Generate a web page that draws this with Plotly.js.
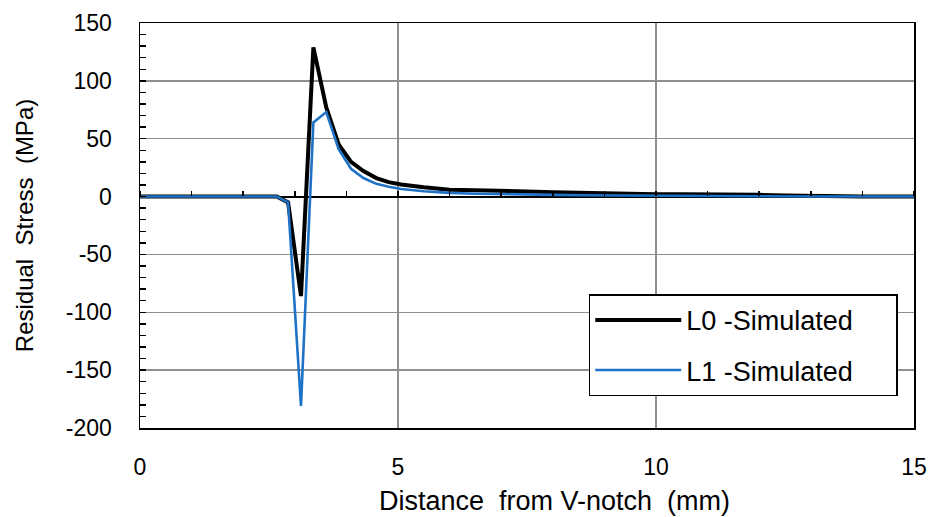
<!DOCTYPE html>
<html>
<head>
<meta charset="utf-8">
<script src="https://cdn.plot.ly/plotly-3.0.1.min.js"></script>
<style>html,body{margin:0;padding:0;background:#fff;}#chart{width:934px;height:517px;}</style>
</head>
<body>
<div id="chart"></div>
<script>
// Distance from V-notch (mm) and residual stress (MPa)
const distL0 = [0, 1.0, 2.0, 2.65, 2.87, 3.12, 3.36, 3.61, 3.85, 4.09, 4.33, 4.58, 4.82, 5.06, 5.5, 6.0, 6.5, 7.0, 7.5, 8.0, 8.5, 9.0, 9.5, 10.0, 10.5, 11.0, 11.5, 12.0, 12.5, 13.0, 13.5, 14.0, 15.0];
const stressL0 = [0, 0, 0, 0, -5, -86, 129, 77, 45, 30, 22, 16, 12.5, 10.5, 8, 5.8, 5.5, 4.6, 4.4, 3.8, 3.2, 3, 2.5, 2.1, 2, 2, 1.6, 1.5, 1, 0.5, 0.2, 0, 0];
const distL1 = [0, 1.0, 2.0, 2.65, 2.87, 3.12, 3.36, 3.61, 3.85, 4.09, 4.33, 4.58, 4.82, 5.06, 5.5, 6.0, 6.5, 7.0, 7.5, 8.0, 8.5, 9.0, 9.5, 10.0, 11.0, 12.0, 13.0, 14.0, 15.0];
const stressL1 = [0, 0, 0, 0, -5, -181, 64, 73, 41, 24, 16, 11, 8.4, 6.5, 4.6, 3.2, 2.5, 2, 1.8, 1.5, 1.2, 1, 0.8, 0.5, 0.4, 0.3, 0.1, 0, 0];
const seriesNames = ["L0 -Simulated", "L1 -Simulated"];
const xTicks = [0, 5, 10, 15];
const yTicks = [-200, -150, -100, -50, 0, 50, 100, 150];
const xTitle = "Distance\u00a0 from V-notch\u00a0 (mm)";
const yTitle = "Residual\u00a0 Stress\u00a0 (MPa)";

const FONT = "Liberation Sans, Arial, sans-serif";
const yMin = -200, yMax = 150;
const NB = "\u00a0";

const traces = [
  {x: distL0, y: stressL0, name: seriesNames[0] + NB.repeat(5), type: "scatter", mode: "lines",
   line: {color: "#000000", width: 4}, legendgroup: "a", xaxis: "x", yaxis: "y"},
  {x: distL1, y: stressL1, name: seriesNames[1] + NB.repeat(5), type: "scatter", mode: "lines",
   line: {color: "#1f72c6", width: 2.6}, legendgroup: "b", xaxis: "x2", yaxis: "y"}
];

const layout = {
  width: 934, height: 517,
  margin: {l: 140, r: 20, t: 23, b: 89},
  paper_bgcolor: "#ffffff", plot_bgcolor: "#ffffff",
  font: {family: FONT, size: 23, color: "#000"},
  showlegend: true,
  legend: {
    x: 0.979, y: 0.33, xanchor: "right", yanchor: "top",
    bgcolor: "#ffffff", bordercolor: "#000000", borderwidth: 1.5,
    font: {family: FONT, size: 27, color: "#000"},
    traceorder: "grouped", tracegroupgap: 12,
    itemwidth: 86
  },
  xaxis: {
    range: [0, 15], tickvals: xTicks, ticktext: xTicks.map(String),
    showgrid: true, gridcolor: "#8f8f8f", gridwidth: 1.5,
    zeroline: false, showline: true, mirror: true, linecolor: "#000", linewidth: 1.5,
    ticks: "", ticklabelstandoff: 18,
    tickfont: {family: FONT, size: 23},
    fixedrange: true
  },
  xaxis2: {
    range: [0, 15], overlaying: "x", anchor: "free", position: (0 - yMin) / (yMax - yMin),
    side: "top", showgrid: false, zeroline: false, showline: true, linecolor: "rgba(0,0,0,0)", linewidth: 2,
    ticks: "outside", tickmode: "linear", dtick: 1, tick0: 0, ticklen: 5, tickwidth: 1.5, tickcolor: "#000",
    showticklabels: false, fixedrange: true
  },
  yaxis: {
    range: [yMin, yMax], tickvals: yTicks, ticktext: yTicks.map(String),
    showgrid: true, gridcolor: "#8f8f8f", gridwidth: 1.5,
    zeroline: true, zerolinecolor: "#000", zerolinewidth: 2,
    showline: true, mirror: true, linecolor: "#000", linewidth: 1.5,
    ticks: "inside", ticklen: 6, tickwidth: 1.5, tickcolor: "#000",
    minor: {dtick: 10, tick0: 0, ticks: "inside", ticklen: 6, tickwidth: 1.5, tickcolor: "#000", showgrid: false},
    ticklabelstandoff: 22,
    tickfont: {family: FONT, size: 23},
    title: {text: yTitle, font: {family: FONT, size: 24}, standoff: 25},
    automargin: false, fixedrange: true
  },
  annotations: [{
    text: xTitle, xref: "paper", yref: "paper", x: 0.536, y: -0.18,
    xanchor: "center", yanchor: "middle", showarrow: false,
    font: {family: FONT, size: 27, color: "#000"}
  }]
};

Plotly.newPlot("chart", traces, layout, {displayModeBar: false, staticPlot: true});
</script>
</body>
</html>
